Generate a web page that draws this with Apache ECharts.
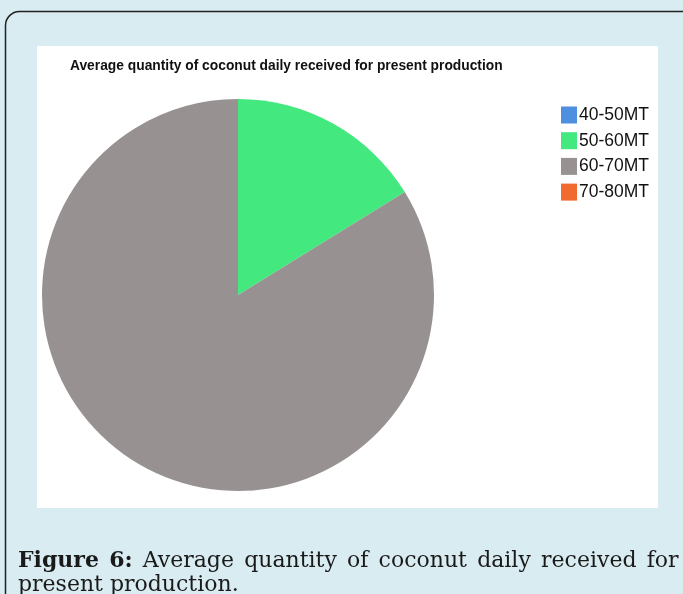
<!DOCTYPE html>
<html>
<head>
<meta charset="utf-8">
<title>Average quantity of coconut daily received</title>
<script src="https://cdn.jsdelivr.net/npm/echarts@6/dist/echarts.min.js"></script>
<style>
  html, body { margin: 0; padding: 0; background: #d9ecf1; }
  #chart { width: 683px; height: 594px; }
</style>
</head>
<body>
<div id="chart"></div>
<script>
// categories and shares (percent of respondents)
const categories = ['40-50MT', '50-60MT', '60-70MT', '70-80MT'];
const shares = [0, 16.2, 83.8, 0];
const colors = ['#4f8fe0', '#43e87e', '#979291', '#f26b2e'];

const chartTitle = 'Average quantity of coconut daily received for present production';
const captionLine1 = 'Average quantity of coconut daily received for';
const captionLine2 = 'present production.';

let pieData = categories.map((name, i) => ({
  name: name,
  value: shares[i],
  itemStyle: { color: colors[i] }
}));

// first caption line is justified in the original, so spaces get a fixed wider width
let line1 = '{b|Figure}{s| }{b|6:}{s| }' + captionLine1.split(' ').join('{s| }');

let chart = echarts.init(document.getElementById('chart'));
let option = {
  backgroundColor: '#d9ecf1',
  animation: false,
  title: {
    text: chartTitle,
    left: 65,
    top: 54,
    textStyle: {
      fontFamily: 'Liberation Sans',
      fontSize: 13.8,
      fontWeight: 'bold',
      color: '#111'
    }
  },
  legend: {
    orient: 'vertical',
    left: 556,
    top: 101,
    icon: 'rect',
    itemWidth: 16,
    itemHeight: 17,
    itemGap: 7.7,
    data: categories,
    textStyle: {
      fontFamily: 'Liberation Sans',
      fontSize: 17.5,
      color: '#111',
      padding: [0, 0, 0, -3]
    }
  },
  graphic: [
    {
      type: 'rect',
      z: -10,
      shape: { x: 5.5, y: 11.5, width: 700, height: 700, r: 14 },
      style: { fill: '#d9ecf1', stroke: '#222', lineWidth: 1.5 }
    },
    {
      type: 'rect',
      z: -9,
      shape: { x: 37, y: 46, width: 621, height: 462 },
      style: { fill: '#fff' }
    },
    {
      type: 'text',
      x: 18,
      y: 561,
      style: {
        text: line1,
        verticalAlign: 'middle',
        fontFamily: 'DejaVu Serif',
        fontSize: 22,
        fill: '#1a1a1a',
        rich: {
          b: { fontFamily: 'DejaVu Serif', fontSize: 22, fontWeight: 'bold', fill: '#1a1a1a' },
          s: { fontFamily: 'DejaVu Serif', fontSize: 22, width: 10.2 }
        }
      }
    },
    {
      type: 'text',
      x: 18,
      y: 585,
      style: {
        text: captionLine2,
        verticalAlign: 'middle',
        fontFamily: 'DejaVu Serif',
        fontSize: 22,
        fill: '#1a1a1a'
      }
    }
  ],
  series: [{
    type: 'pie',
    center: [238, 295],
    radius: 196,
    startAngle: 90,
    clockwise: true,
    label: { show: false },
    labelLine: { show: false },
    emphasis: { disabled: true },
    itemStyle: { borderWidth: 0 },
    data: pieData
  }]
};
chart.setOption(option);
</script>
</body>
</html>
